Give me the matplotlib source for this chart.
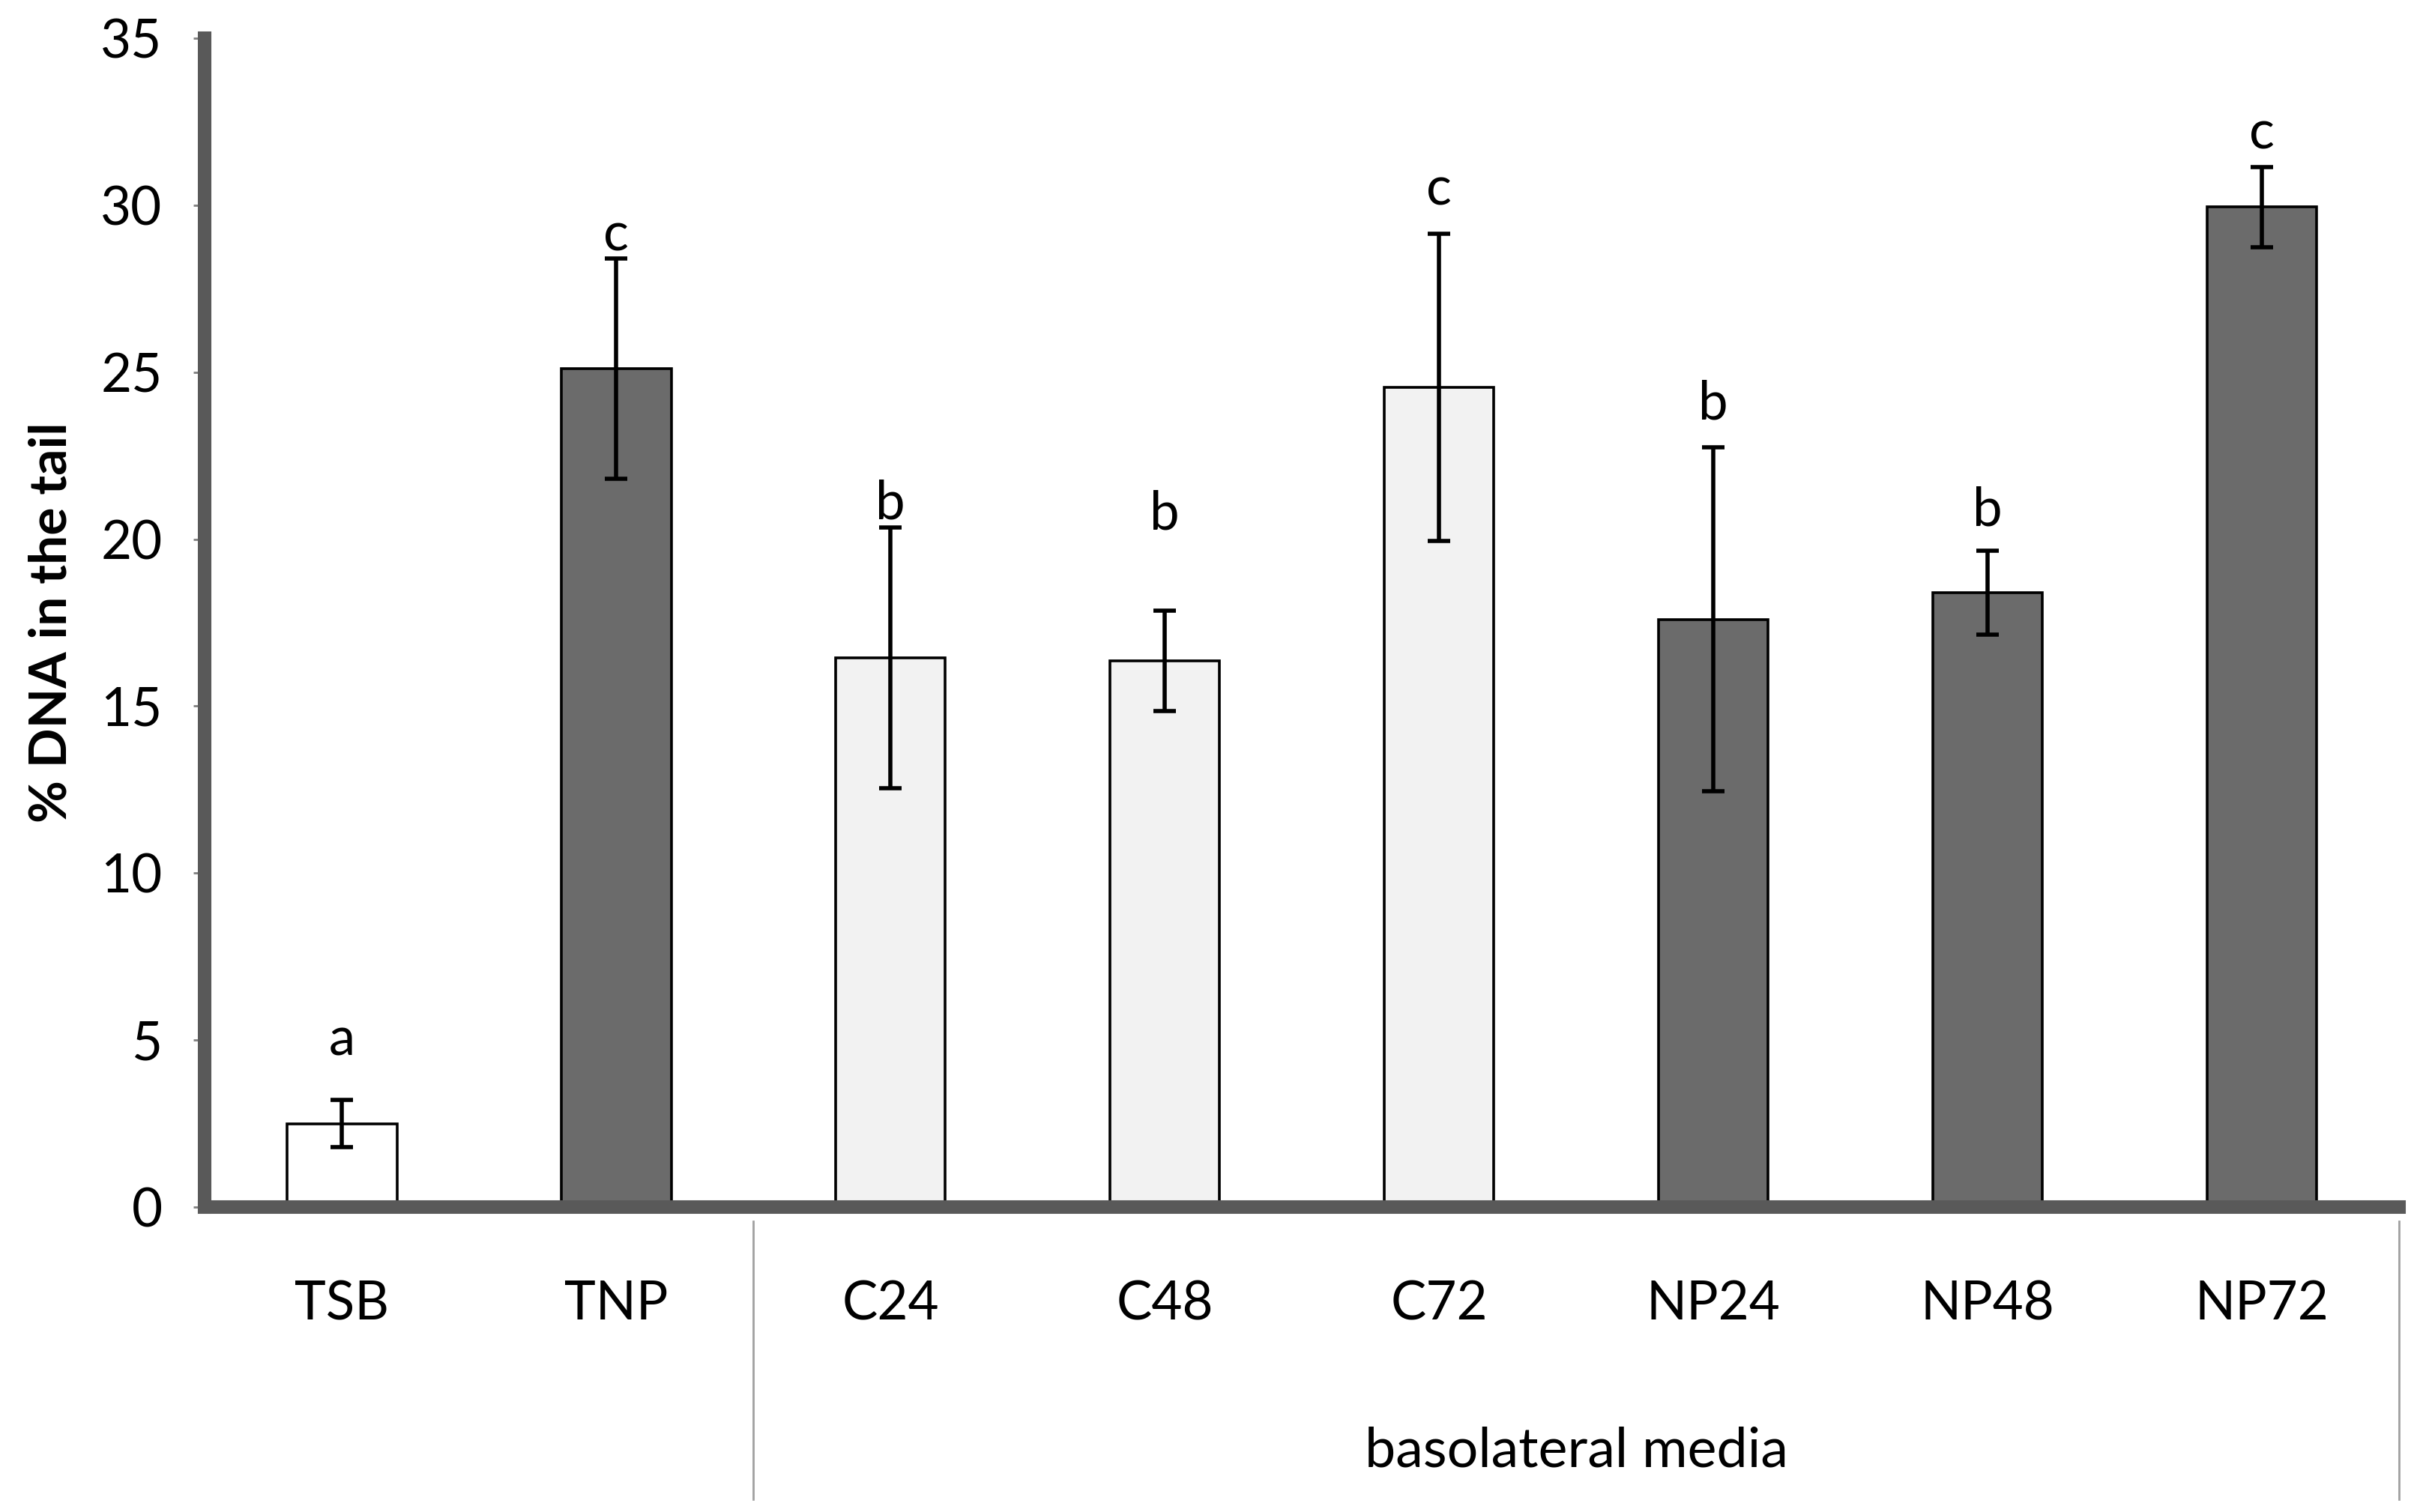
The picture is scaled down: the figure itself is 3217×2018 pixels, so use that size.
import matplotlib
matplotlib.use("Agg")
import matplotlib.pyplot as plt
import matplotlib.transforms as mtransforms

plt.rcParams['font.family'] = ['Lato', 'DejaVu Sans']

categories = ["TSB", "TNP", "C24", "C48", "C72", "NP24", "NP48", "NP72"]
values = [2.5, 25.1, 16.45, 16.35, 24.55, 17.6, 18.4, 29.95]
errors = [0.7, 3.3, 3.9, 1.5, 4.6, 5.15, 1.25, 1.2]
letters = ["a", "c", "b", "b", "c", "b", "b", "c"]
letter_y = [4.55, 28.65, 20.6, 20.3, 30.0, 23.6, 20.4, 31.7]
bar_colors = ["#ffffff", "#6b6b6b", "#f2f2f2", "#f2f2f2", "#f2f2f2",
              "#6b6b6b", "#6b6b6b", "#6b6b6b"]
yticks = [0, 5, 10, 15, 20, 25, 30, 35]
group_label = "basolateral media"
ylabel = "% DNA in the tail"

fig = plt.figure(figsize=(32.17, 20.18), dpi=100)
ax = fig.add_axes([0.0850, 0.2017, 0.9100, 0.773])

x = list(range(len(categories)))
ax.bar(x, values, width=0.40, color=bar_colors, edgecolor="black",
       linewidth=2.6, zorder=2)
ax.errorbar(x, values, yerr=errors, fmt="none", ecolor="black",
            elinewidth=4.0, capsize=11, capthick=4.0, zorder=3)

for xi, lt, ly in zip(x, letters, letter_y):
    ax.text(xi, ly, lt, ha="center", va="baseline", fontsize=51)

ax.set_xlim(-0.5, 7.5)
ax.set_ylim(0, 35)
ax.set_yticks(yticks)
ax.set_yticklabels([str(t) for t in yticks], fontsize=51)
ax.set_xticks(x)
ax.set_xticklabels(categories, fontsize=51)

for side in ["top", "right"]:
    ax.spines[side].set_visible(False)
for side in ["left", "bottom"]:
    ax.spines[side].set_color("#595959")
    ax.spines[side].set_linewidth(13)
    ax.spines[side].set_capstyle("projecting")

ax.tick_params(axis="y", direction="out", length=11, width=2,
               color="#808080", pad=30)
ax.tick_params(axis="x", length=0, pad=70)

ax.set_ylabel(ylabel, fontsize=50, fontweight="bold")
ax.yaxis.set_label_coords(-0.059, 0.5)

trans = mtransforms.blended_transform_factory(ax.transData, ax.transAxes)
for sx in [1.5, 7.5]:
    ax.plot([sx, sx], [-0.012, -0.25], color="#a0a0a0", linewidth=2,
            transform=trans, clip_on=False, zorder=1)
ax.text(4.5, -0.209, group_label, transform=trans, ha="center",
        va="center", fontsize=53)

fig.savefig("out.png", dpi=100)
